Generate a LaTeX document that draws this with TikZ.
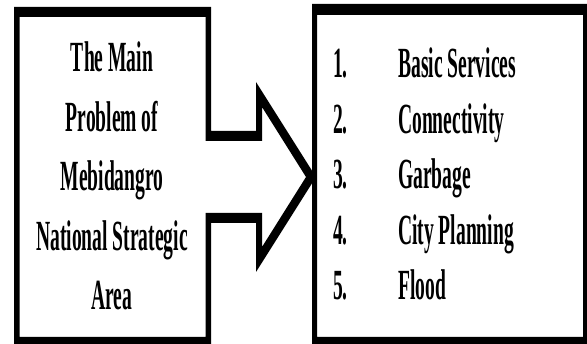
\documentclass[tikz,border=0pt]{standalone}
\usepackage{fontspec}
\newfontfamily\probfont[FakeStretch=0.455]{Liberation Serif}

\tikzset{
	frame/.style={fill=black, even odd rule},
	probtext/.style={inner sep=0pt, anchor=base, font=\probfont\bfseries\fontsize{43}{50}\selectfont},
	listtext/.style={inner sep=0pt, anchor=base west, font=\probfont\bfseries\fontsize{43}{50}\selectfont}
}

\begin{document}
\begin{tikzpicture}[x=1pt, y=-1pt]
	
	\useasboundingbox (0,0) rectangle (587,344);
	
	% Left box with the arrow coming out of its right side
	\fill[frame]
		(14,7) -- (211,7) -- (211,131) -- (256,131) -- (256,82) -- (316,177)
		-- (256,272) -- (256,223) -- (211,223) -- (211,344) -- (14,344) -- cycle
		(19.5,17) -- (205.5,17) -- (205.5,141) -- (262,141) -- (262,107) -- (306,177)
		-- (262,247) -- (262,213) -- (205.5,213) -- (205.5,337) -- (19.5,337) -- cycle;
	
	% Right box
	\fill[frame] (312,4) rectangle (587,344) (317,15) rectangle (583,337);
	
	\foreach \txt [count=\i] in {The Main, Problem of, Mebidangro, National Strategic, Area}
		\node[probtext] (prob\i) at (112, {72+59.5*(\i-1)}) {\txt};
	
	\foreach \n/\txt in {1/Basic Services, 2/Connectivity, 3/Garbage, 4/City Planning, 5/Flood} {
		\node[listtext] (num\n) at (333, {78+55.5*(\n-1)}) {\n.};
		\node[listtext] (item\n) at (398, {78+55.5*(\n-1)}) {\txt};
	}
	
\end{tikzpicture}
\end{document}
